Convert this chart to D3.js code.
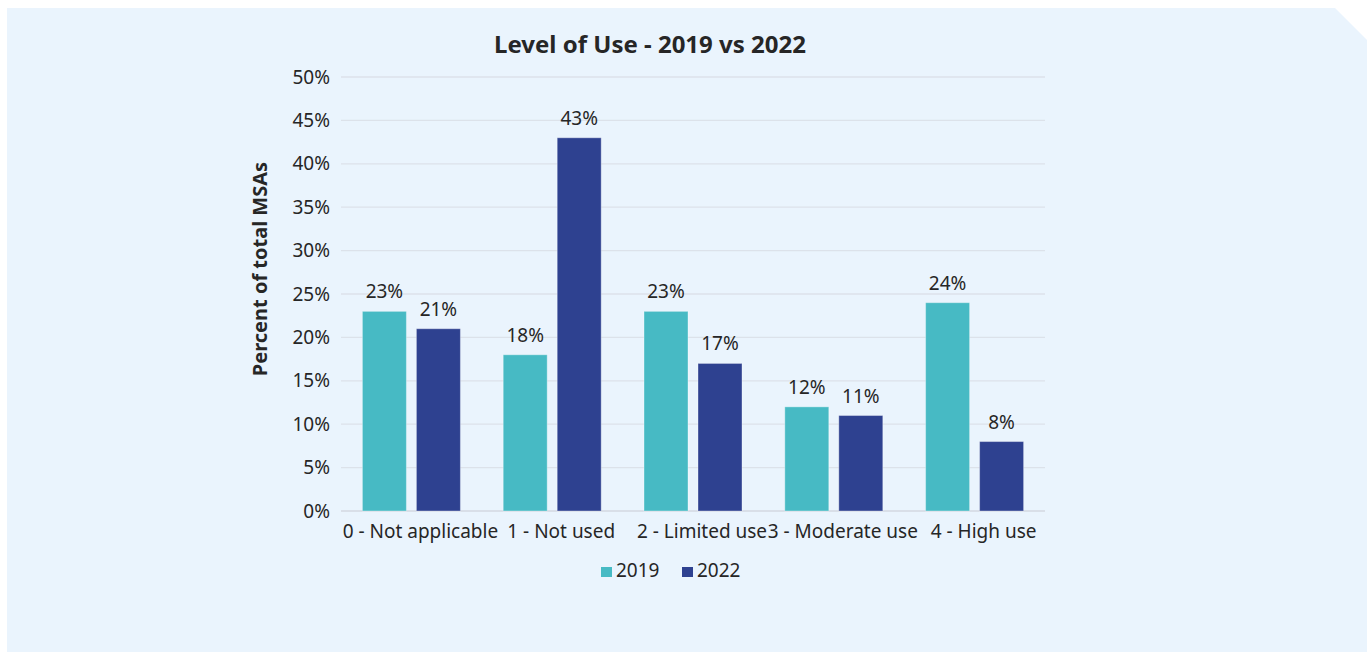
<!DOCTYPE html>
<html>
<head>
<meta charset="utf-8">
<script src="https://cdn.jsdelivr.net/npm/d3@7"></script>
<style>
  body { margin: 0; background: #fff; }
  text { font-family: "Noto Sans", "Open Sans", sans-serif; fill: #262626; }
</style>
</head>
<body>
<div id="chart"></div>
<script>
// chart data
const categories = ["0 - Not applicable", "1 - Not used", "2 - Limited use", "3 - Moderate use", "4 - High use"];
const seriesNames = ["2019", "2022"];
const values2019 = [23, 18, 23, 12, 24];
const values2022 = [21, 43, 17, 11, 8];
const yTicks = [0, 5, 10, 15, 20, 25, 30, 35, 40, 45, 50];
const colors = ["#47BAC4", "#2E4190"];

const width = 1367, height = 653;
const margin = {top: 77, right: 322, bottom: 142, left: 341};

const svg = d3.select("#chart")
  .append("svg")
  .attr("width", width)
  .attr("height", height);

// panel with cut corner
svg.append("path")
  .attr("d", `M7,8 H1335 L1367,40 V652 H7 Z`)
  .attr("fill", "#EAF4FD");

const xScale = d3.scaleBand()
  .domain(categories)
  .range([margin.left, width - margin.right]);

const yScale = d3.scaleLinear()
  .domain([0, 50])
  .range([height - margin.bottom, margin.top]);

// gridlines
svg.append("g")
  .selectAll("line")
  .data(yTicks)
  .enter()
  .append("line")
  .attr("x1", margin.left)
  .attr("x2", width - margin.right)
  .attr("y1", d => yScale(d))
  .attr("y2", d => yScale(d))
  .attr("stroke", d => d === 0 ? "#D3D9E0" : "#DCE2EA")
  .attr("stroke-width", 1.3);

// y tick labels
const yAxis = svg.append("g")
  .attr("transform", `translate(${margin.left - 11}, 0)`)
  .call(d3.axisLeft(yScale).tickValues(yTicks).tickFormat(d => d + "%").tickSize(0).tickPadding(0));
yAxis.select(".domain").remove();
yAxis.selectAll("text")
  .attr("font-size", "19px")
  .attr("fill", "#333")
  .style("font-family", '"Noto Sans", sans-serif');

// x labels (the original sits a little right of the band centres)
const xAxis = svg.append("g")
  .attr("transform", `translate(9, ${height - margin.bottom})`)
  .call(d3.axisBottom(xScale).tickSize(0).tickPadding(14));
xAxis.select(".domain").remove();
xAxis.selectAll("text")
  .attr("font-size", "19px")
  .attr("fill", "#262626")
  .style("font-family", '"Noto Sans", sans-serif');

const barW = 44, gap = 10;
const series = [values2019, values2022];

series.forEach((vals, s) => {
  const offset = s === 0 ? -(gap / 2 + barW) : gap / 2;
  const g = svg.append("g");
  g.selectAll("rect")
    .data(vals)
    .enter()
    .append("rect")
    .attr("x", (d, i) => xScale(categories[i]) + xScale.bandwidth() / 2 + offset)
    .attr("y", d => yScale(d))
    .attr("width", barW)
    .attr("height", d => yScale(0) - yScale(d))
    .attr("fill", colors[s])
    .attr("stroke", "#fff")
    .attr("stroke-opacity", 0.35)
    .attr("stroke-width", 1);
  g.selectAll("text")
    .data(vals)
    .enter()
    .append("text")
    .attr("x", (d, i) => xScale(categories[i]) + xScale.bandwidth() / 2 + offset + barW / 2)
    .attr("y", d => yScale(d) - 13)
    .attr("text-anchor", "middle")
    .attr("font-size", "19px")
    .text(d => d + "%");
});

// title
svg.append("text")
  .attr("x", 650)
  .attr("y", 53)
  .attr("text-anchor", "middle")
  .attr("font-size", "24px")
  .attr("font-weight", "bold")
  .text("Level of Use - 2019 vs 2022");

// y axis title
svg.append("text")
  .attr("transform", `translate(267, 269) rotate(-90)`)
  .attr("text-anchor", "middle")
  .attr("font-size", "20px")
  .attr("font-weight", "bold")
  .text("Percent of total MSAs");

// legend
const legendX = [601, 682];
seriesNames.forEach((name, i) => {
  svg.append("rect")
    .attr("x", legendX[i])
    .attr("y", 567)
    .attr("width", 11)
    .attr("height", 10)
    .attr("fill", colors[i]);
  svg.append("text")
    .attr("x", legendX[i] + 15)
    .attr("y", 577)
    .attr("font-size", "19px")
    .text(name);
});
</script>
</body>
</html>
